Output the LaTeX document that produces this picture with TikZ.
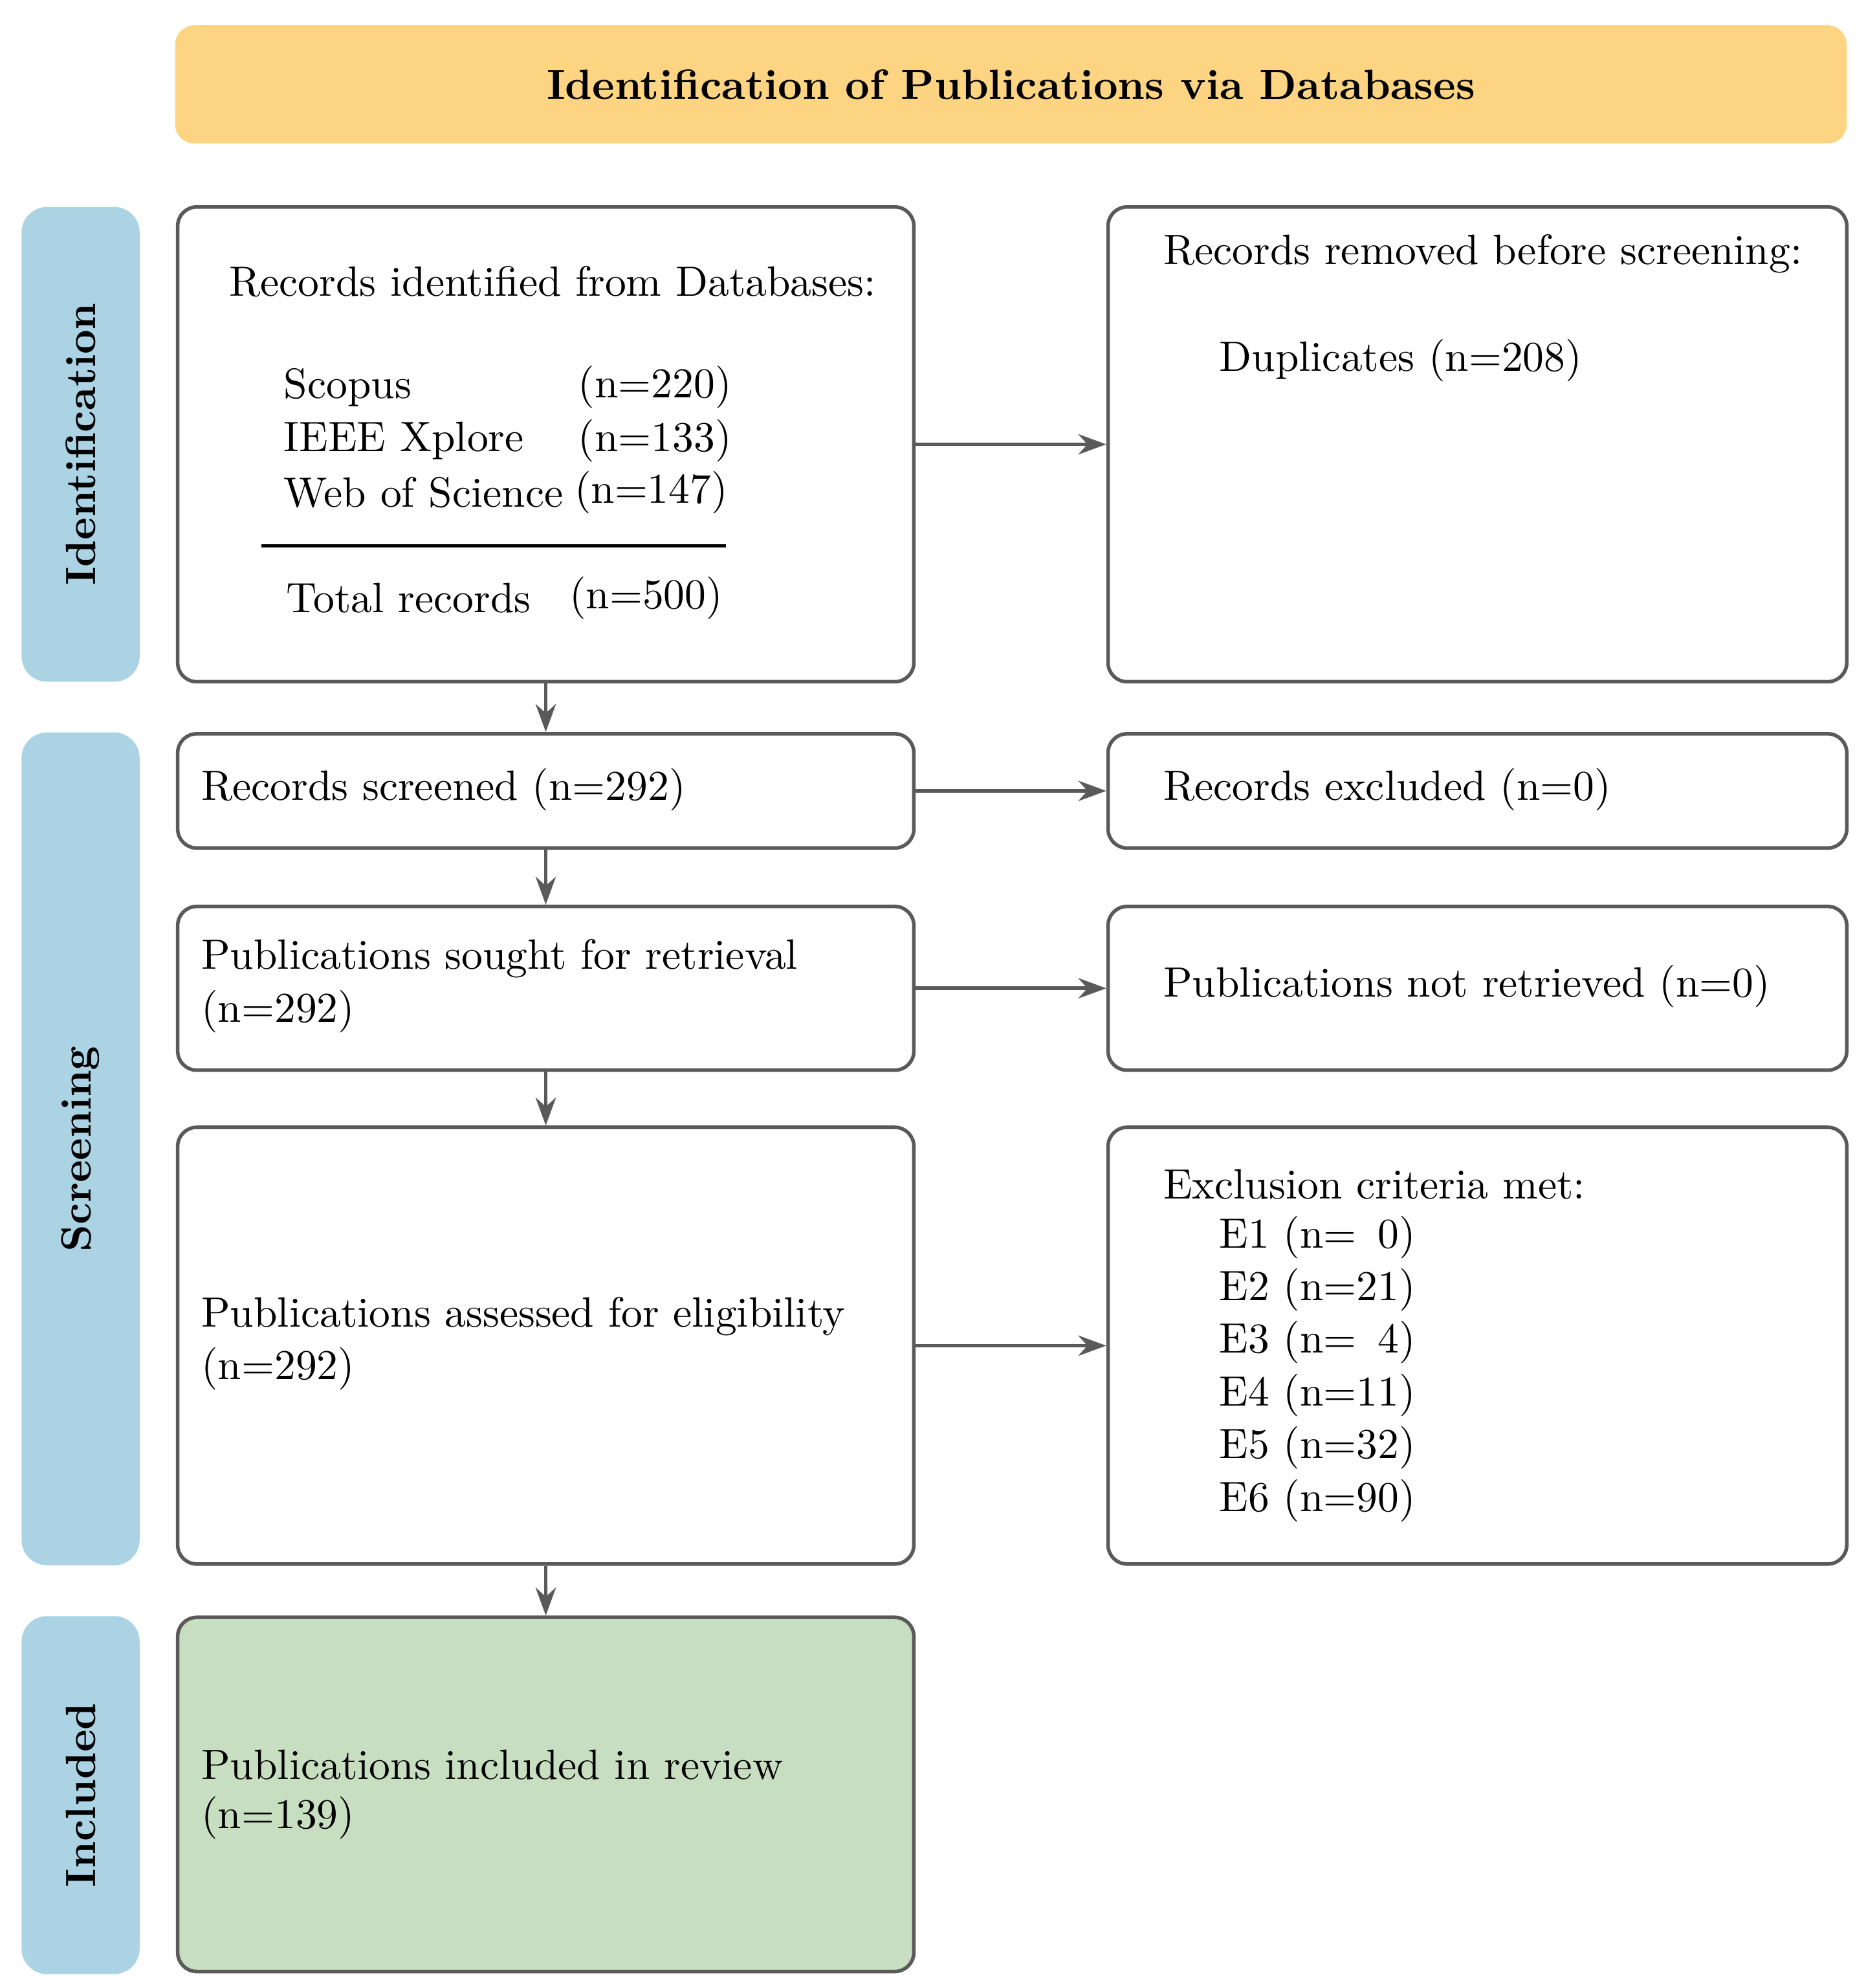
\documentclass[tikz,border=0pt]{standalone}
\usetikzlibrary{fit}
\usetikzlibrary{arrows.meta}
\definecolor{hd1}{RGB}{252,212,130}
\definecolor{sb1}{RGB}{171,211,227}
\definecolor{in1}{RGB}{200,222,192}
\definecolor{ln1}{RGB}{90,90,90}

\begin{document}
\begin{tikzpicture}[
    x=0.01cm, y=-0.01cm,
    font=\fontsize{9.5}{11.5}\selectfont,
    b/.style={
        rounded corners=1.5mm,
        draw=ln1, line width=0.8pt, inner sep=0pt
    },
    s/.style={
        rounded corners=2mm,
        fill=sb1, draw=none, inner sep=0pt
    },
    t/.style={anchor=west, inner sep=0pt},
    a/.style={
        line width=0.8pt, color=ln1,
        -{Stealth[length=2.2mm, width=1.6mm]}
    }
]
    \useasboundingbox (0,0) rectangle (1470,1566);

    \node [b, fill=hd1, draw=none, fit={(138,20) (1455,113)}] (head) {};
    \node [font=\fontsize{9.5}{11.5}\selectfont\bfseries] at (head) {Identification of Publications via Databases};

    \node [s, fit={(17,163) (110,537)}] (sid) {};
    \node [s, fit={(17,577) (110,1233)}] (ssc) {};
    \node [s, fit={(17,1273) (110,1555)}] (sin) {};
    \node [rotate=90, font=\fontsize{9.5}{11.5}\selectfont\bfseries] at (sid) {Identification};
    \node [rotate=90, font=\fontsize{9.5}{11.5}\selectfont\bfseries] at (ssc) {Screening};
    \node [rotate=90, font=\fontsize{9.5}{11.5}\selectfont\bfseries] at (sin) {Included};

    \node [b, fit={(140,163) (720,537)}] (ident) {};
    \node [b, fit={(140,578) (720,668)}] (scr) {};
    \node [b, fit={(140,714) (720,843)}] (sought) {};
    \node [b, fit={(140,888) (720,1232)}] (elig) {};
    \node [b, fill=in1, fit={(140,1274) (720,1553)}] (incl) {};

    \node [b, fit={(873,163) (1455,537)}] (rem) {};
    \node [b, fit={(873,578) (1455,668)}] (excl) {};
    \node [b, fit={(873,714) (1455,843)}] (notret) {};
    \node [b, fit={(873,888) (1455,1232)}] (crit) {};

    % texts
    \node [t] at (180,222) {Records identified from Databases:};
    \node [t] at (223,305) {Scopus};
    \node [t] at (455,305) {(n=220)};
    \node [t] at (223,347) {IEEE Xplore};
    \node [t] at (455,347) {(n=133)};
    \node [t] at (223,388) {Web of Science};
    \node [t] at (452,388) {(n=147)};
    \coordinate (r1) at (206,430);
    \coordinate (r2) at (572,430);
    \draw [line width=0.6pt] (r1) -- (r2);
    \node [t] at (225,471) {Total records};
    \node [t] at (448,471) {(n=500)};

    \node [t] at (916,200) {Records removed before screening:};
    \node [t] at (960,284) {Duplicates (n=208)};

    \node [t] at (158,622) {Records screened (n=292)};
    \node [t] at (916,622) {Records excluded (n=0)};

    \node [t] at (158,755) {Publications sought for retrieval};
    \node [t] at (158,797) {(n=292)};
    \node [t] at (916,777) {Publications not retrieved (n=0)};

    \node [t] at (158,1037) {Publications assessed for eligibility};
    \node [t] at (158,1078) {(n=292)};
    \node [t] at (916,933) {Exclusion criteria met:};
    \foreach \e/\n [count=\i] in {E1/{n=\phantom{0}0},E2/n=21,E3/{n=\phantom{0}4},E4/n=11,E5/n=32,E6/n=90}
        \node [t] at (960,933+41.5*\i) {\e\ (\n)};

    \node [t] at (158,1390) {Publications included in review};
    \node [t] at (158,1432) {(n=139)};

    % arrows
    \draw [a] (ident) -- (scr);
    \draw [a] (scr) -- (sought);
    \draw [a] (sought) -- (elig);
    \draw [a] (elig) -- (incl);
    \draw [a] (ident) -- (rem);
    \draw [a] (scr) -- (excl);
    \draw [a] (sought) -- (notret);
    \draw [a] (elig) -- (crit);

\end{tikzpicture}
\end{document}
